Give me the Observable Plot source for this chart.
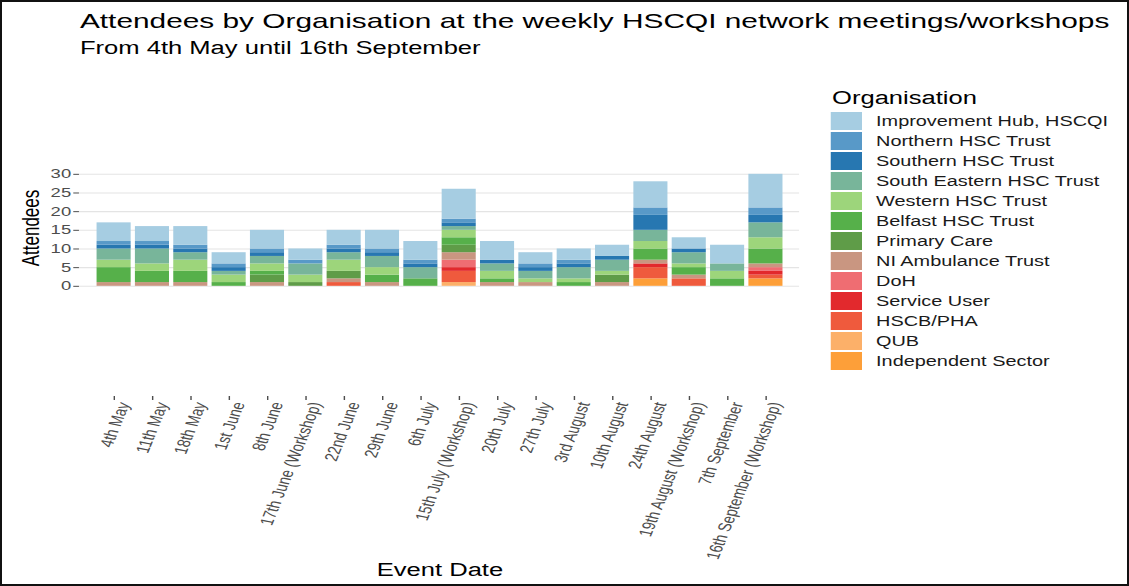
<!DOCTYPE html>
<html>
<head>
<meta charset="utf-8">
<script src="https://cdn.jsdelivr.net/npm/d3@7"></script>
<script src="https://cdn.jsdelivr.net/npm/@observablehq/plot@0.6"></script>
<style>
  html, body { margin: 0; padding: 0; background: #fff; overflow: hidden; }
  body { width: 1129px; height: 586px; position: relative; font-family: "Liberation Sans", Arial, sans-serif; }
  #frame { position: absolute; left: 0; top: 0; width: 1129px; height: 586px; box-sizing: border-box; border: 2px solid #111; pointer-events: none; z-index: 5; }
  #wrap { position: absolute; left: 0; top: 0; width: 795px; height: 586px; transform: scaleX(1.4201); transform-origin: 0 0; }
  #wrap > * { position: absolute; }
  .t { white-space: nowrap; line-height: 1; color: #000; }
  #chart { left: 0; top: 0; }
</style>
</head>
<body>
<div id="wrap">
  <div id="chart"></div>
  <div class="t" style="left:56.3px; top:10.2px; font-size:21px;">Attendees by Organisation at the weekly HSCQI network meetings/workshops</div>
  <div class="t" style="left:56.3px; top:38.8px; font-size:18px;">From 4th May until 16th September</div>
  <div class="t" style="left:21.8px; top:228px; font-size:17px; transform: translate(-50%,-50%) rotate(-90deg);">Attendees</div>
  <div class="t" style="left:309.8px; top:560.8px; font-size:18px; transform: translateX(-50%);">Event Date</div>
  <div class="t" style="left:585.9px; top:88.8px; font-size:18px;">Organisation</div>
  <div id="legend" style="left:0; top:0;"></div>
</div>
<div id="frame"></div>
<script>
// Categories (x axis, in displayed order)
const dates = ["4th May", "11th May", "18th May", "1st June", "8th June", "17th June (Workshop)", "22nd June", "29th June", "6th July", "15th July (Workshop)", "20th July", "27th July", "3rd August", "10th August", "24th August", "19th August (Workshop)", "7th September", "16th September (Workshop)"];

// Organisations in legend order (top of stack first)
const orgs = ["Improvement Hub, HSCQI", "Northern HSC Trust", "Southern HSC Trust", "South Eastern HSC Trust", "Western HSC Trust", "Belfast HSC Trust", "Primary Care", "NI Ambulance Trust", "DoH", "Service User", "HSCB/PHA", "QUB", "Independent Sector"];
const orgColors = ["#a6cde2", "#5899c8", "#2777b1", "#78b59a", "#9dd57b", "#56b04a", "#5f9c48", "#c99681", "#ef6d72", "#e2292d", "#ef5a3d", "#fcb069", "#fd9f39"];

// Attendees per organisation, one value per date
const improvementHub = [5, 4, 5, 3, 5, 3, 4, 5, 5, 8, 5, 3, 3, 3, 7, 3, 5, 9];
const northern       = [1, 1, 1, 1, 1, 1, 1, 1, 1, 1, 0, 1, 1, 0, 2, 0, 0, 2];
const southern       = [1, 1, 1, 1, 1, 0, 1, 1, 1, 1, 1, 1, 1, 1, 4, 1, 0, 2];
const southEastern   = [3, 4, 2, 1, 2, 3, 2, 3, 3, 1, 2, 2, 3, 3, 3, 3, 2, 4];
const western        = [2, 2, 3, 2, 2, 2, 3, 2, 0, 2, 2, 1, 1, 1, 2, 1, 2, 3];
const belfast        = [4, 3, 3, 1, 1, 0, 0, 2, 2, 2, 1, 0, 1, 0, 3, 2, 2, 4];
const primaryCare    = [0, 0, 0, 0, 2, 1, 2, 0, 0, 2, 0, 0, 0, 2, 0, 0, 0, 0];
const niAmbulance    = [1, 1, 1, 0, 1, 0, 1, 1, 0, 2, 1, 1, 0, 1, 1, 1, 0, 1];
const doh            = [0, 0, 0, 0, 0, 0, 0, 0, 0, 2, 0, 0, 0, 0, 0, 0, 0, 1];
const serviceUser    = [0, 0, 0, 0, 0, 0, 0, 0, 0, 1, 0, 0, 0, 0, 1, 0, 0, 1];
const hscbPha        = [0, 0, 0, 0, 0, 0, 1, 0, 0, 3, 0, 0, 0, 0, 3, 2, 0, 1];
const qub            = [0, 0, 0, 0, 0, 0, 0, 0, 0, 1, 0, 0, 0, 0, 0, 0, 0, 0];
const independent    = [0, 0, 0, 0, 0, 0, 0, 0, 0, 0, 0, 0, 0, 0, 2, 0, 0, 2];

const yTicks = [0, 5, 10, 15, 20, 25, 30];

const series = [improvementHub, northern, southern, southEastern, western, belfast, primaryCare, niAmbulance, doh, serviceUser, hscbPha, qub, independent];

// Build long table, bottom of stack first
const rows = [];
for (let k = orgs.length - 1; k >= 0; k--) {
  series[k].forEach((v, i) => { if (v > 0) rows.push({date: dates[i], org: orgs[k], value: v}); });
}

const chart = Plot.plot({
  width: 795,
  height: 586,
  marginLeft: 55.6,
  marginRight: 232.3,
  marginTop: 168,
  marginBottom: 190,
  style: {fontFamily: "'Liberation Sans', Arial, sans-serif", background: "transparent", color: "#4d4d4d", overflow: "visible"},
  x: {type: "band", domain: dates, paddingInner: 0.1, paddingOuter: 0.15},
  y: {domain: [-29.52, 31.56]},
  color: {domain: orgs, range: orgColors},
  marks: [
    Plot.gridY(yTicks, {stroke: "#e4e4e4", strokeOpacity: 1, strokeWidth: 1.1}),
    Plot.barY(rows, {x: "date", y: "value", fill: "org", z: "org"}),
    Plot.axisY(yTicks, {tickSize: 4, tickPadding: 2, fontSize: 13, label: null}),
    Plot.axisX({tickSize: 4, tickFormat: () => "", label: null}),
    Plot.axisX({tickSize: 0, tickPadding: 6, tickRotate: -74, dx: 7, fontSize: 13, label: null})
  ]
});
document.getElementById("chart").appendChild(chart);

// Legend
const legend = document.getElementById("legend");
orgs.forEach((o, i) => {
  const key = document.createElement("div");
  key.style.cssText = `position:absolute; left:584.5px; top:${112 + 20 * i}px; background:${orgColors[i]}; width:22.5px; height:18px;`;
  legend.appendChild(key);
  const lab = document.createElement("div");
  lab.className = "t";
  lab.style.cssText = `position:absolute; left:616.9px; top:${121 + 20 * i - 7}px; font-size:14px; color:#1a1a1a;`;
  lab.textContent = o;
  legend.appendChild(lab);
});
</script>
</body>
</html>
